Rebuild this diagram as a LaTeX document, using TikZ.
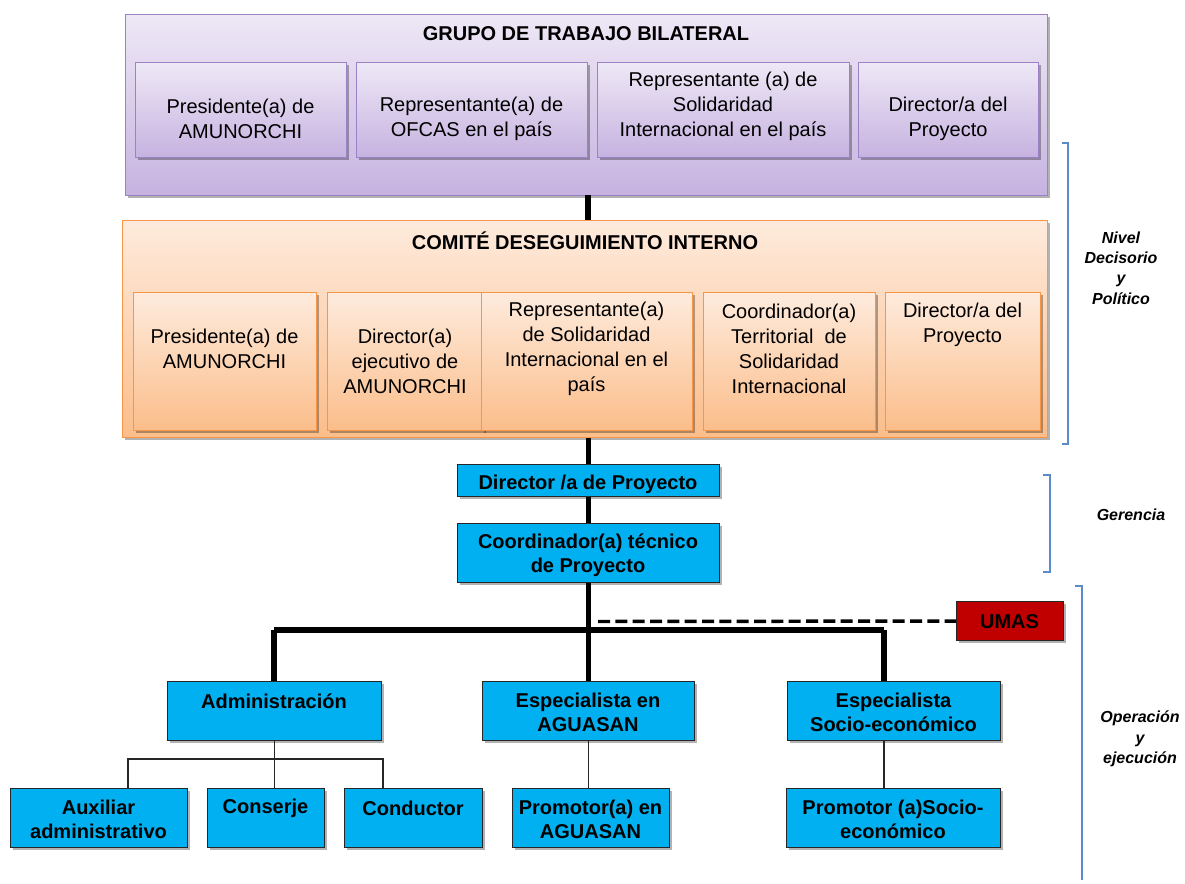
\documentclass[tikz,border=0pt]{standalone}
\usepackage{fontspec}
\setmainfont{Liberation Sans}
\usetikzlibrary{shadows}
\definecolor{purpTop}{HTML}{EEE8F6}
\definecolor{purpBot}{HTML}{C6B2E0}
\definecolor{purpLine}{HTML}{9A82C4}
\definecolor{oranTop}{HTML}{FEEBDD}
\definecolor{oranBot}{HTML}{FBBD8A}
\definecolor{oranLine}{HTML}{F79646}
\definecolor{boxBlue}{HTML}{00B0F0}
\definecolor{boxRed}{HTML}{C00000}
\definecolor{brkBlue}{HTML}{5B8BC9}
\newcommand\bx[8]{%
  \node[#2, minimum width={(#5-#3)*0.75pt}, minimum height={(#6-#4)*0.75pt}, anchor=north west] (#1) at (#3,#4) {};
  \node[#2txt] (#1t) at ({(#3+#5)/2},#7) {#8};}
\begin{document}
\begin{tikzpicture}[x=0.75pt,y=-0.75pt,
  shd/.style={drop shadow={shadow xshift=1.5pt, shadow yshift=-1.5pt, opacity=0.3, fill=black}},
  purp/.style={shd, draw=purpLine, line width=0.9pt, top color=purpTop, bottom color=purpBot, inner sep=0},
  oran/.style={shd, draw=oranLine, line width=0.9pt, top color=oranTop, bottom color=oranBot, inner sep=0},
  blue/.style={shd, draw=black!85, line width=0.8pt, fill=boxBlue, inner sep=0},
  red/.style={shd, draw=black!85, line width=0.8pt, fill=boxRed, inner sep=0},
  purptxt/.style={font=\fontsize{15}{18.75}\selectfont, align=center, inner sep=0},
  orantxt/.style={purptxt},
  bluetxt/.style={font=\fontsize{15}{18}\selectfont\bfseries, align=center, inner sep=0},
  redtxt/.style={bluetxt},
  title/.style={font=\fontsize{15}{18}\selectfont\bfseries, inner sep=0},
  side/.style={font=\fontsize{12}{15.3}\selectfont\bfseries\itshape, align=center, inner sep=0},
  thick line/.style={line width=3.8pt, black},
  thin line/.style={line width=0.8pt, black!85},
  brk/.style={draw=brkBlue, line width=0.8pt}
]
\useasboundingbox (0,0) rectangle (1185,884);

% Grupo de trabajo bilateral
\node[purp, minimum width={922*0.75pt}, minimum height={181*0.75pt}, anchor=north west] (gtb) at (125,14) {};
\node[title] (gtbt) at (586,34) {GRUPO DE TRABAJO BILATERAL};
\bx{g1}{purp}{135}{62}{346}{157}{118.5}{Presidente(a) de\\AMUNORCHI}
\bx{g2}{purp}{356}{62}{587}{157}{118.5}{Representante(a) de\\OFCAS en el país}
\bx{g3}{purp}{597}{62}{849}{157}{106.5}{Representante (a) de\\Solidaridad\\Internacional en el país}
\bx{g4}{purp}{858}{62}{1038}{157}{118.5}{Director/a del\\Proyecto}

% Comite
\node[oran, minimum width={925*0.75pt}, minimum height={217*0.75pt}, anchor=north west] (com) at (122,220) {};
\node[title] (comt) at (585,241) {COMITÉ DESEGUIMIENTO INTERNO};
\bx{c1}{oran}{133}{292}{316}{430}{349}{Presidente(a) de\\AMUNORCHI}
\bx{c2}{oran}{327}{292}{483}{430}{361.5}{Director(a)\\ejecutivo de\\AMUNORCHI}
\bx{c3}{oran}{481}{292}{692}{430}{349}{Representante(a)\\de Solidaridad\\Internacional en el\\país}
\bx{c4}{oran}{703}{292}{875}{430}{349}{Coordinador(a)\\Territorial\ \ de\\Solidaridad\\Internacional}
\bx{c5}{oran}{885}{292}{1040}{430}{324.5}{Director/a del\\Proyecto}

% Gerencia
\bx{dir}{blue}{457}{464}{719}{496}{484.5}{Director /a de Proyecto}
\bx{coo}{blue}{457}{523}{719}{582}{555}{Coordinador(a) técnico\\de Proyecto}

% UMAS
\bx{umas}{red}{956}{601}{1063}{640}{621.5}{UMAS}

% Operacion
\bx{adm}{blue}{167}{681}{381}{740}{701}{Administración}
\bx{esp}{blue}{482}{681}{694}{740}{712}{Especialista en\\AGUASAN}
\bx{soc}{blue}{787}{681}{1000}{740}{712}{Especialista\\Socio-económico}
\bx{aux}{blue}{10}{788}{187}{847}{819}{Auxiliar\\administrativo}
\bx{con}{blue}{207}{788}{324}{847}{808.5}{Conserje}
\bx{cond}{blue}{344}{788}{482}{847}{808}{Conductor}
\bx{pag}{blue}{512}{788}{669}{847}{819}{Promotor(a) en\\AGUASAN}
\bx{pso}{blue}{786}{788}{1000}{847}{819}{Promotor (a)Socio-\\económico}

% thick connectors
\coordinate (gx) at (588,195);
\draw[thick line] (gx) -- (gx |- com.north);
\draw[thick line] (dir.north |- com.south) -- (dir.north);
\draw[thick line] (dir.south) -- (coo.north);
\draw[thick line] (coo.south) -- (esp.north);
\coordinate (busL) at (274,630);
\coordinate (busR) at (884,630);
\draw[thick line] (busL) -- (busR);
\draw[thick line] (busL) -- (busL |- adm.north);
\draw[thick line] (busR) -- (busR |- soc.north);
\coordinate (dsh) at (598,621.5);
\draw[line width=2.6pt, dash pattern=on 9pt off 4pt] (dsh) -- (umas.west);

% thin connectors
\coordinate (a1) at (128,759);
\coordinate (a3) at (383,759);
\draw[thin line] (adm.south) -- (adm.south |- con.north);
\draw[thin line] (a1 |- aux.north) -- (a1) -- (a3) -- (a3 |- cond.north);
\draw[thin line] (esp.south) -- (esp.south |- pag.north);
\coordinate (s1) at (884,740);
\draw[thin line] (s1) -- (s1 |- pso.north);

% brackets
\draw[brk] (1062,143) -- (1068,143) -- (1068,444) -- (1062,444);
\draw[brk] (1043,475) -- (1050,475) -- (1050,572) -- (1043,572);
\draw[brk] (1075,586) -- (1082,586) -- (1082,880);
\node[side] (l1) at (1121,268) {Nivel\\Decisorio\\y\\Político};
\node[side] (l2) at (1131,515) {Gerencia};
\node[side] (l3) at (1140,739) {Operación\\y\\ejecución};
\end{tikzpicture}
\end{document}
